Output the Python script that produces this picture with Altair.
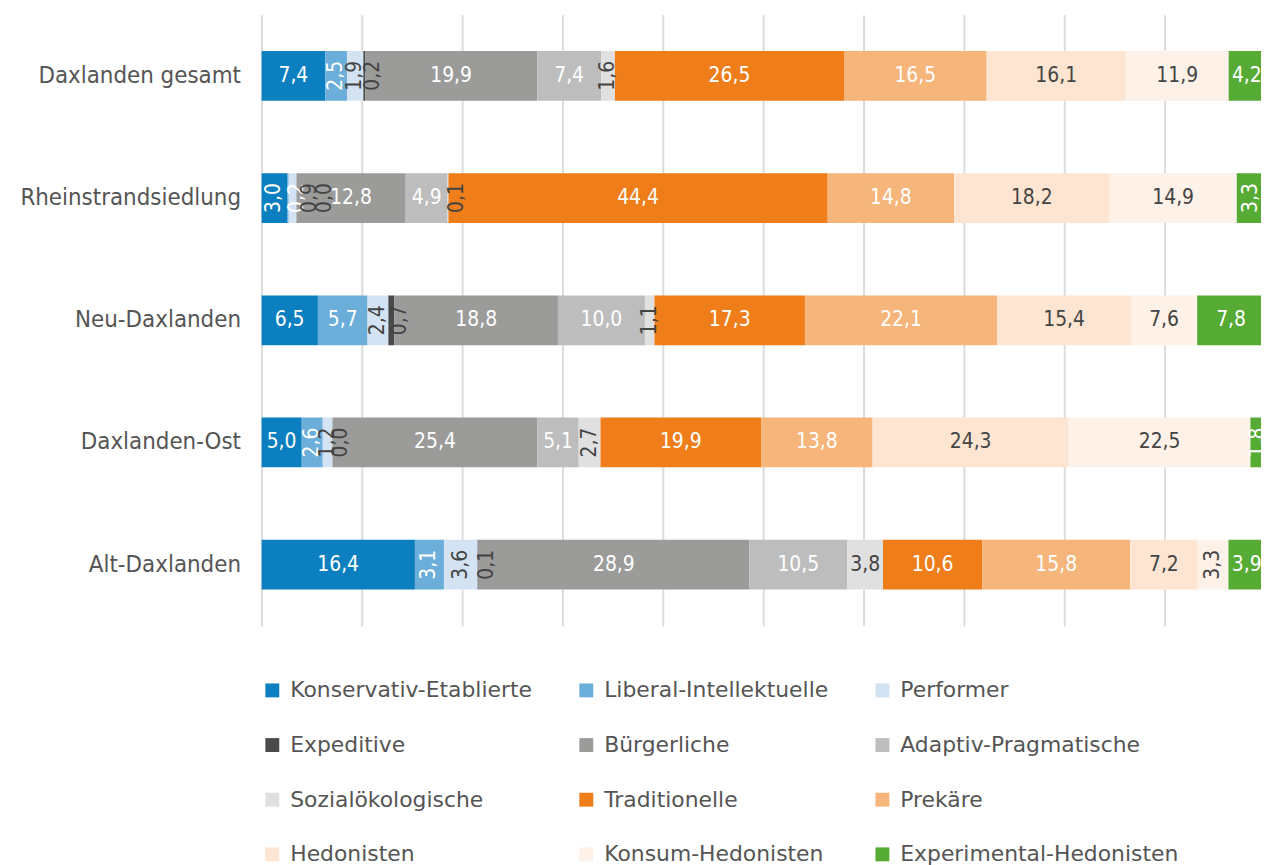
import altair as alt
import pandas as pd

areas = ["Daxlanden gesamt", "Rheinstrandsiedlung", "Neu-Daxlanden", "Daxlanden-Ost", "Alt-Daxlanden"]
milieus = ["Konservativ-Etablierte", "Liberal-Intellektuelle", "Performer", "Expeditive",
           "Bürgerliche", "Adaptiv-Pragmatische", "Sozialökologische", "Traditionelle",
           "Prekäre", "Hedonisten", "Konsum-Hedonisten", "Experimental-Hedonisten"]
colors = ["#0b7fc0", "#6aaed9", "#d3e3f3", "#4a4a4a", "#9b9b9a", "#bdbdbd", "#e0e0e0",
          "#ee7d1a", "#f6b57a", "#fde5d2", "#fdf1e8", "#55ab33"]
dark_label = ["Performer", "Expeditive", "Sozialökologische", "Hedonisten", "Konsum-Hedonisten"]

v_gesamt = [7.4, 2.5, 1.9, 0.2, 19.9, 7.4, 1.6, 26.5, 16.5, 16.1, 11.9, 4.2]
v_rhein = [3.0, 0.2, 0.9, 0.0, 12.8, 4.9, 0.1, 44.4, 14.8, 18.2, 14.9, 3.3]
v_neu = [6.5, 5.7, 2.4, 0.7, 18.8, 10.0, 1.1, 17.3, 22.1, 15.4, 7.6, 7.8]
v_ost = [5.0, 2.6, 1.2, 0.0, 25.4, 5.1, 2.7, 19.9, 13.8, 24.3, 22.5, 1.8]
v_alt = [16.4, 3.1, 3.6, 0.1, 28.9, 10.5, 3.8, 10.6, 15.8, 7.2, 3.3, 3.9]
series = [v_gesamt, v_rhein, v_neu, v_ost, v_alt]

rows = []
for a, vals in zip(areas, series):
    for i, (m, v) in enumerate(zip(milieus, vals)):
        rows.append({"area": a, "milieu": m, "order": i, "value": v,
                     "label": f"{v:.1f}".replace(".", ",")})
df = pd.DataFrame(rows)

FONT = "DejaVu Sans Condensed"
LFONT = "DejaVu Sans"
TXT = "#555555"
xs = alt.Scale(domain=[0, 1006 / 1010], nice=False, zero=True)
ys = alt.Scale(paddingInner=0.593, paddingOuter=0.2965)

base = alt.Chart(df).transform_stack(
    stack="value", groupby=["area"], as_=["x0", "x1"], offset="normalize",
    sort=[alt.SortField("order", order="ascending")]
).transform_calculate(
    mid="(datum.x0 + datum.x1) / 2",
    small="datum.value < 1 ? 1 : 0"
).transform_window(
    window=[alt.WindowFieldDef(op="lag", field="small", param=1, **{"as": "p1"}),
            alt.WindowFieldDef(op="lag", field="small", param=2, **{"as": "p2"})],
    groupby=["area"], sort=[alt.SortField("order", order="ascending")]
).transform_calculate(
    k="datum.small == 1 ? (datum.p1 == 1 ? (datum.p2 == 1 ? 2 : 1) : 0) : -1"
)

y_enc = alt.Y("area:N", sort=areas, scale=ys,
              axis=alt.Axis(title=None, ticks=False, domain=False, labelFontSize=24,
                            labelColor=TXT, labelPadding=21, minExtent=250,
                            maxExtent=250, labelFont=FONT, labelLimit=300))

bars = base.mark_bar(clip=True).encode(
    x=alt.X("x0:Q", scale=xs,
            axis=alt.Axis(values=[0, 0.1, 0.2, 0.3, 0.4, 0.5, 0.6, 0.7, 0.8, 0.9],
                          grid=True, gridColor="#dcdcdc", gridWidth=2, labels=False,
                          ticks=False, domain=False, title=None)),
    x2="x1:Q",
    y=y_enc,
    color=alt.Color("milieu:N", scale=alt.Scale(domain=milieus, range=colors),
                    legend=alt.Legend(title=None, orient="bottom", columns=3,
                                      symbolType="square", symbolSize=196,
                                      symbolStrokeWidth=0, labelFontSize=22,
                                      labelFont=LFONT, labelColor=TXT,
                                      labelOffset=7, columnPadding=43,
                                      rowPadding=33, offset=54, labelLimit=400,
                                      padding=0, symbolOffset=0)),
    order=alt.Order("order:Q"),
)

tcolor = alt.condition(alt.FieldOneOfPredicate(field="milieu", oneOf=dark_label),
                       alt.value("#444444"), alt.value("white"))
enc = dict(x=alt.X("mid:Q", scale=xs), y=alt.Y("area:N", sort=areas, scale=ys),
           text="label:N", color=tcolor)

text_h = base.transform_filter("datum.value >= 3.7").mark_text(
    font=FONT, fontSize=21, clip=True, align="center", baseline="middle"
).encode(**enc)

text_v = base.transform_filter("datum.value < 3.7 && datum.k < 0").mark_text(
    font=FONT, fontSize=21, clip=True, align="center", baseline="middle", angle=270
).encode(**enc)

text_s = [
    base.transform_filter(f"datum.k == {kk}").mark_text(
        font=FONT, fontSize=21, clip=True, align="center", baseline="middle",
        angle=270, dy=d
    ).encode(**enc)
    for kk, d in [(0, 9), (1, 18), (2, 29)]
]

chart = alt.layer(bars, text_h, text_v, *text_s).properties(
    width=1006, height=615,
    padding={"left": 5, "top": 4, "right": 0, "bottom": 5}
).configure_view(stroke=None)

chart.save("out.html", embed_options={"renderer": "svg", "actions": False})
